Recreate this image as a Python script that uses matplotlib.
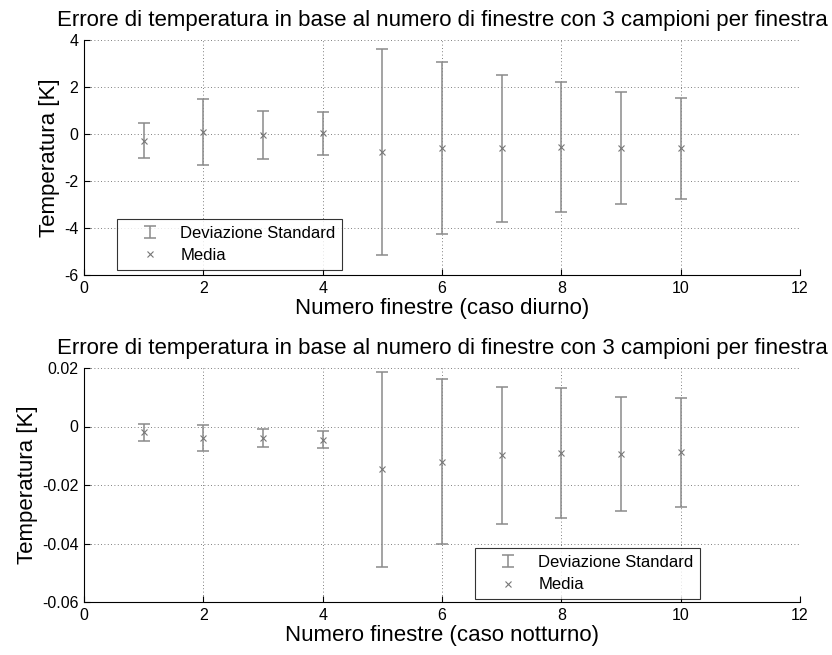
import numpy as np
import matplotlib
matplotlib.use('Agg')
import matplotlib.pyplot as plt
from matplotlib.ticker import FuncFormatter
from matplotlib.legend_handler import HandlerErrorbar

plt.rcParams['font.family'] = ['Liberation Sans', 'DejaVu Sans']

# numero di finestre
finestre = [1, 2, 3, 4, 5, 6, 7, 8, 9, 10]

# caso diurno: media e deviazione standard [K]
media_giorno = [-0.29, 0.09, -0.06, 0.03, -0.76, -0.60, -0.61, -0.56, -0.59, -0.61]
std_giorno = [0.75, 1.40, 1.02, 0.91, 4.38, 3.65, 3.13, 2.76, 2.39, 2.14]

# caso notturno
media_notte = [-0.0020, -0.0039, -0.0039, -0.0045, -0.0146, -0.0120,
               -0.0099, -0.0090, -0.0094, -0.0088]
std_notte = [0.0029, 0.0044, 0.0032, 0.0030, 0.0334, 0.0283,
             0.0233, 0.0222, 0.0195, 0.0186]

titolo = 'Errore di temperatura in base al numero di finestre con 3 campioni per finestra'

fig = plt.figure(figsize=(8.32, 6.55), dpi=100)
ax1 = fig.add_axes([84/832, 1-275/655, 716/832, 235/655])
ax2 = fig.add_axes([84/832, 1-602/655, 716/832, 234/655])

def fmt(v, pos):
    if abs(v) < 1e-12:
        return '0'
    return '%g' % v

def disegna(ax, media, std, xlabel, yticks, legloc):
    eb = ax.errorbar(finestre, media, yerr=std, fmt='none', ecolor='#8a8a8a',
                     elinewidth=1.1, capsize=4.3, capthick=1.1)
    mk, = ax.plot(finestre, media, 'x', color='#777777', ms=5, mew=0.8)
    ax.set_xlim(0, 12)
    ax.set_xticks(range(0, 13, 2))
    ax.set_ylim(yticks[0], yticks[-1])
    ax.set_yticks(yticks)
    ax.yaxis.set_major_formatter(FuncFormatter(fmt))
    ax.grid(True, linestyle=(0, (1, 3)), color='#555555', linewidth=0.6)
    ax.spines['top'].set_visible(False)
    ax.spines['right'].set_visible(False)
    ax.spines['left'].set_linewidth(0.8)
    ax.spines['bottom'].set_linewidth(0.8)
    ax.tick_params(direction='in', length=4, labelsize=11.5, width=0.8, pad=4)
    ax.set_title(titolo, fontsize=16, pad=10)
    ax.set_xlabel(xlabel, fontsize=16, labelpad=2)
    ax.set_ylabel('Temperatura [K]', fontsize=16, labelpad=3)
    leg = ax.legend([eb, mk], ['Deviazione Standard', 'Media'],
                    handler_map={type(eb): HandlerErrorbar(yerr_size=0.38)},
                    loc='lower left', bbox_to_anchor=legloc, fontsize=12,
                    frameon=True, fancybox=False, edgecolor='black',
                    borderaxespad=0, handlelength=3.2, handletextpad=0.2,
                    borderpad=0.4, labelspacing=0.45)
    leg.get_frame().set_linewidth(0.8)

disegna(ax1, media_giorno, std_giorno, 'Numero finestre (caso diurno)',
        [-6, -4, -2, 0, 2, 4], (33/716, 5/235))
disegna(ax2, media_notte, std_notte, 'Numero finestre (caso notturno)',
        [-0.06, -0.04, -0.02, 0, 0.02], (391/716, 3/234))

fig.savefig('out.png', dpi=100)
